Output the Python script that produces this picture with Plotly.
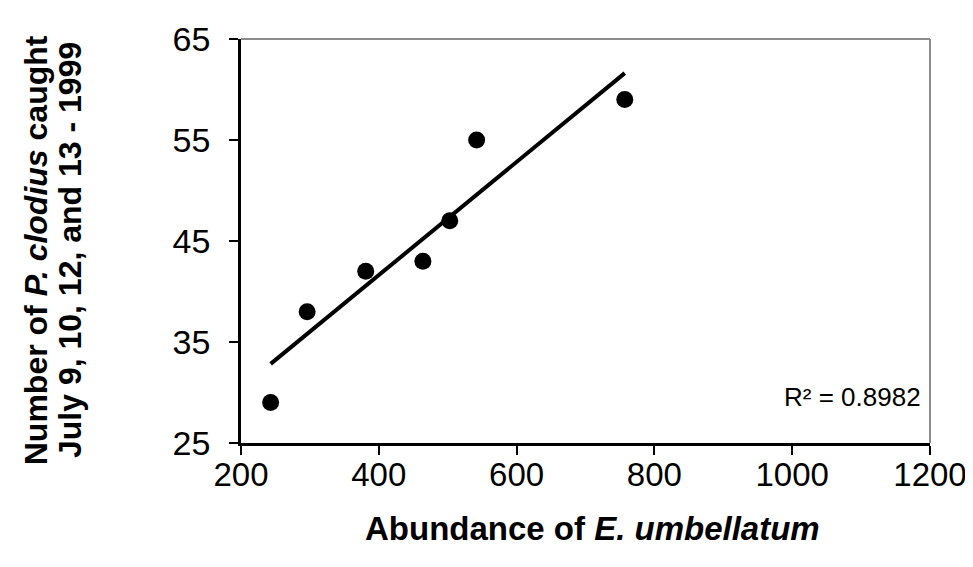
import numpy as np
import plotly.graph_objects as go

# Data
abundance = [243, 296, 381, 464, 503, 542, 757]
caught = [29, 38, 42, 43, 47, 55, 59]
x_ticks = [200, 400, 600, 800, 1000, 1200]
y_ticks = [25, 35, 45, 55, 65]
r2_label = "R² = 0.8982"
x_title = "Abundance of <i>E. umbellatum</i>"
y_title_1 = "Number of <i>P. clodius</i> caught"
y_title_2 = "July 9, 10, 12, and 13 - 1999"

# Linear trendline from the data
slope, intercept = np.polyfit(abundance, caught, 1)
trend_x = [min(abundance), max(abundance)]
trend_y = [slope * v + intercept for v in trend_x]

FONT = "Liberation Sans, Arial, sans-serif"
BOLD = dict(size=32, family=FONT, color="black", weight="bold")

fig = go.Figure()
fig.add_trace(go.Scatter(x=trend_x, y=trend_y, mode="lines",
                         line=dict(color="black", width=4), hoverinfo="skip"))
fig.add_trace(go.Scatter(x=abundance, y=caught, mode="markers",
                         marker=dict(color="black", size=17, line=dict(width=0))))

fig.update_layout(
    width=973, height=567,
    paper_bgcolor="white", plot_bgcolor="white",
    showlegend=False,
    margin=dict(l=233, r=51, t=21, b=132),
    font=dict(family=FONT, size=34, color="black"),
    xaxis=dict(range=[200, 1200], tickvals=x_ticks, ticks="outside", ticklen=9,
               tickwidth=2, tickcolor="black", showline=True, linecolor="black",
               linewidth=2.5, showgrid=False, zeroline=False,
               tickfont=dict(size=33), ticklabelstandoff=-8),
    yaxis=dict(range=[25, 65], tickvals=y_ticks, ticks="outside", ticklen=9,
               tickwidth=2, tickcolor="black", showline=True, linecolor="black",
               linewidth=2.5, showgrid=False, zeroline=False,
               tickfont=dict(size=34), ticklabelstandoff=12),
    shapes=[
        dict(type="line", xref="paper", yref="paper", x0=0, x1=1, y0=1, y1=1,
             line=dict(color="#8c8c8c", width=2)),
        dict(type="line", xref="paper", yref="paper", x0=1, x1=1, y0=0, y1=1,
             line=dict(color="#8c8c8c", width=2)),
    ],
    annotations=[
        dict(text=x_title, xref="paper", yref="paper",
             x=0.51, y=-0.2126, xanchor="center", yanchor="middle", showarrow=False,
             font=dict(BOLD, size=33)),
        dict(text=y_title_1, xref="paper", yref="paper", x=-0.297, y=0.478,
             xanchor="center", yanchor="middle", textangle=-90, showarrow=False,
             font=BOLD),
        dict(text=y_title_2, xref="paper", yref="paper", x=-0.248, y=0.478,
             xanchor="center", yanchor="middle", textangle=-90, showarrow=False,
             font=BOLD),
        dict(text=r2_label, xref="paper", yref="paper", x=0.99, y=0.1135,
             xanchor="right", yanchor="middle", showarrow=False,
             font=dict(size=26, family=FONT, color="black")),
    ],
)

fig.write_html("out.html")
